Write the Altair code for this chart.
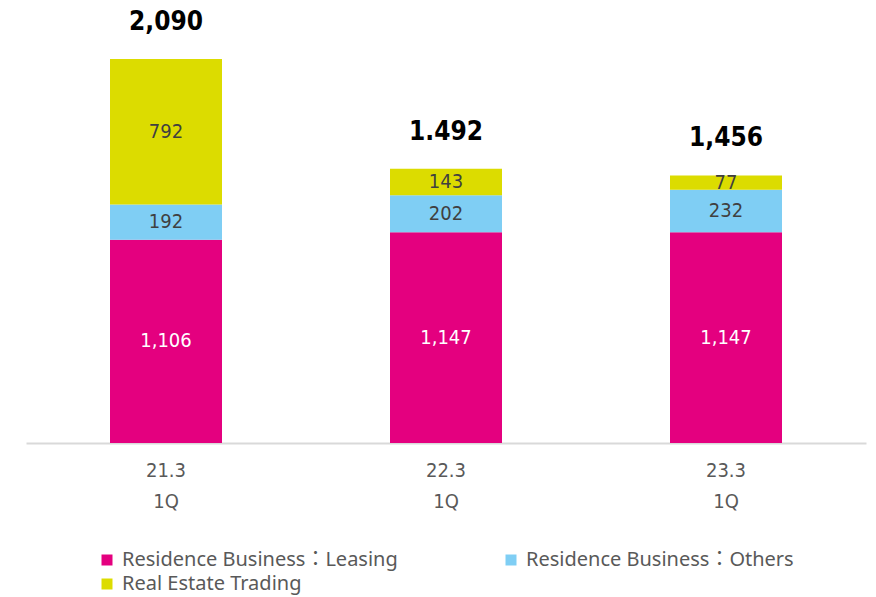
import altair as alt
import pandas as pd

categories = ["21.3\n1Q", "22.3\n1Q", "23.3\n1Q"]
series_names = ["Residence Business：Leasing", "Residence Business：Others", "Real Estate Trading"]
leasing = [1106, 1147, 1147]
others = [192, 202, 232]
trading = [792, 143, 77]
total_labels = ["2,090", "1.492", "1,456"]
colors = ["#E4007F", "#7FCEF4", "#DCDC00"]

rows = []
for i, c in enumerate(categories):
    for j, (name, vals) in enumerate(zip(series_names, [leasing, others, trading])):
        rows.append({"cat": c, "series": name, "value": vals[i], "ord": j})
df = pd.DataFrame(rows)

tot = pd.DataFrame({
    "cat": categories,
    "total": [a + b + c for a, b, c in zip(leasing, others, trading)],
    "label": total_labels,
})

FONT = "DejaVu Sans Condensed, Noto Sans CJK JP"
LFONT = "Noto Sans, Noto Sans CJK JP"

x = alt.X("cat:N", sort=categories, title=None,
          scale=alt.Scale(paddingInner=0.6, paddingOuter=0.3),
          axis=alt.Axis(labelExpr="split(datum.label, '\\n')", labelAngle=0,
                        labelFontSize=20, labelColor="#595959", labelFont=FONT,
                        labelPadding=17, labelLineHeight=31,
                        ticks=False, domainColor="#D9D9D9", domainWidth=2))
yscale = alt.Scale(domain=[0, 2324], nice=False)

bars = alt.Chart(df).mark_bar().encode(
    x=x,
    y=alt.Y("value:Q", stack="zero", scale=yscale, axis=None),
    color=alt.Color("series:N", sort=series_names,
                    scale=alt.Scale(domain=series_names, range=colors),
                    legend=alt.Legend(title=None, orient="none", legendX=71, legendY=534,
                                      values=[series_names[0], series_names[2], series_names[1]],
                                      columns=2, symbolType="square", symbolSize=121,
                                      labelFontSize=20, labelColor="#595959", labelFont=LFONT,
                                      labelOffset=5, gridAlign="all",
                                      columnPadding=103, rowPadding=4, padding=0,
                                      symbolStrokeWidth=0, labelLimit=400)),
    order=alt.Order("ord:Q"),
)

seg = alt.Chart(df).transform_stack(
    stack="value", as_=["y0", "y1"], groupby=["cat"], sort=[alt.SortField("ord")]
).transform_calculate(mid="(datum.y0 + datum.y1) / 2").mark_text(
    fontSize=20, font=FONT, baseline="middle"
).encode(
    x=alt.X("cat:N", sort=categories),
    y=alt.Y("mid:Q", scale=yscale),
    text=alt.Text("value:Q", format=","),
    color=alt.condition(alt.datum.ord == 0, alt.value("white"), alt.value("#404040")),
)

totals = alt.Chart(tot).mark_text(
    fontSize=26, fontWeight="bold", font=FONT, baseline="middle", dy=-37, color="black"
).encode(
    x=alt.X("cat:N", sort=categories),
    y=alt.Y("total:Q", scale=yscale),
    text="label:N",
)

chart = alt.layer(bars, seg, totals).properties(
    width=840, height=427,
    autosize=alt.AutoSizeParams(type="none"),
    padding={"left": 18, "top": 8, "right": 2, "bottom": 156},
).configure_view(stroke=None)

chart.save("out.html", embed_options={"renderer": "svg", "actions": False})
